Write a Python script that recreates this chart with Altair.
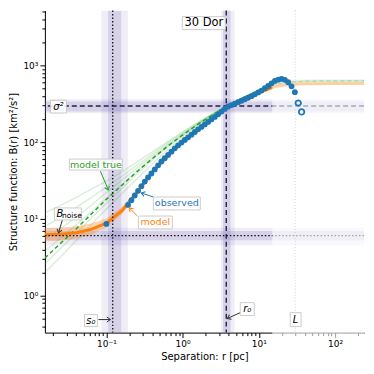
import altair as alt
import pandas as pd

# ---------------- data ----------------
obs_r = [0.1, 0.1925, 0.2129, 0.2355, 0.2604, 0.288, 0.3187, 0.3524, 0.3898, 0.4311,
         0.4769, 0.5273, 0.5833, 0.6452, 0.7136, 0.7893, 0.8731, 0.9656, 1.068, 1.181,
         1.306, 1.445, 1.598, 1.768, 1.955, 2.163, 2.392, 2.646, 2.927, 3.237,
         3.580, 3.959, 4.378, 4.844, 5.358, 5.926, 6.555, 7.251, 8.020, 8.867,
         9.808, 10.85, 12.00, 13.27, 14.68, 16.24, 17.96, 19.86, 21.97, 24.30,
         26.88, 29.73]
obs_B = [8.6, 15.2, 17.5, 20.2, 23.2, 26.7, 30.7, 34.7, 39.1, 44.2,
         49.9, 56.0, 61.8, 68.2, 75.2, 83.1, 91.1, 98.7, 106.9, 115.8,
         125.4, 135.8, 146.9, 158.3, 170.6, 183.9, 198.2, 213.6, 230.9, 250.8,
         272.4, 291.9, 304.7, 317.9, 331.8, 346.6, 362.5, 379.1, 398.1, 420.8,
         444.5, 470.5, 505.0, 540.0, 585.0, 628.6, 653.2, 666.5, 650.2, 603.5,
         534.6, 448.8]
hollow_r = [32.9, 36.4]
hollow_B = [324, 248]

curve_r = [0.0156, 0.025, 0.04, 0.063, 0.1, 0.16, 0.25, 0.4, 0.63, 1.0, 1.6,
           2.5, 4.0, 6.3, 10, 16, 25, 40, 63, 100, 160, 240]
true_B = [3.1, 4.8, 7.4, 11.5, 18, 27.5, 41, 61, 88, 124, 172,
          228, 300, 380, 470, 560, 605, 620, 625, 628, 630, 630]
model_B = [6.2, 6.3, 6.6, 7.3, 8.8, 12.8, 22, 40.5, 66.5, 101, 147,
           205, 295, 358, 440, 530, 568, 576, 578, 580, 580, 580]
model_lo = [5.1, 5.2, 5.5, 6.2, 7.7, 11.5, 20.5, 38.5, 63, 96, 140,
            196, 285, 345, 425, 515, 552, 560, 562, 563, 563, 563]
model_hi = [7.6, 7.7, 8.0, 8.7, 10.2, 14.3, 23.5, 42.5, 70, 105, 154,
            214, 305, 371, 455, 545, 585, 593, 595, 597, 597, 597]
ens_g1 = [2.0, 3.2, 5.2, 8.4, 13.5, 21.5, 33, 52, 79, 116, 165, 224, 298, 378, 468, 560, 600, 612, 615, 616, 616, 616]
ens_g2 = [5.5, 7.5, 10.5, 15, 22, 32, 46, 66, 93, 128, 176, 232, 303, 384, 476, 570, 620, 635, 640, 642, 642, 642]
ens_g3 = [8.0, 10.5, 14, 19, 26, 36, 50, 70, 97, 132, 179, 234, 304, 383, 474, 566, 612, 626, 630, 632, 632, 632]
ens_g4 = [3.8, 5.6, 8.3, 12.3, 18.5, 28, 42, 62, 89, 125, 173, 229, 301, 381, 471, 563, 608, 622, 626, 628, 628, 628]
ens_g5 = [12, 15, 19, 24.5, 31, 41, 55, 75, 101, 136, 182, 236, 305, 385, 477, 572, 625, 640, 646, 648, 648, 648]
ens_g6 = [2.6, 4.1, 6.5, 10.2, 16, 25, 38.5, 58.5, 86, 122, 170, 227, 300, 379, 469, 558, 603, 616, 620, 621, 621, 621]

sigma2 = 296
sigma2_inner = [252, 340]
sigma2_outer = [239, 363]
noise = 6.05
noise_inner = [5.28, 6.98]
noise_outer = [4.55, 7.7]
s0 = 0.121
s0_inner = [0.1052, 0.1565]
s0_outer = [0.0862, 0.191]
r0 = 3.74
r0_inner = [3.4, 4.26]
r0_outer = [3.2, 4.8]
L = 30.0
r_fade = 15.0

x_dom = [0.0156, 240]
y_dom = [0.33, 5200]
x_major = [0.1, 1, 10, 100]
x_minor = [0.02, 0.03, 0.04, 0.05, 0.06, 0.07, 0.08, 0.09,
           0.2, 0.3, 0.4, 0.5, 0.6, 0.7, 0.8, 0.9,
           2, 3, 4, 5, 6, 7, 8, 9, 20, 30, 40, 50, 60, 70, 80, 90, 200]
y_major = [1, 10, 100, 1000]
y_minor = [0.4, 0.5, 0.6, 0.7, 0.8, 0.9, 2, 3, 4, 5, 6, 7, 8, 9,
           20, 30, 40, 50, 60, 70, 80, 90, 200, 300, 400, 500, 600, 700, 800, 900,
           2000, 3000, 4000, 5000]

# annotation boxes: text, centre r, centre B, r_lo, r_hi, B_lo, B_hi
boxes = [
    ("30 Dor", 1.90, 3565, 0.99, 3.63, 2934, 4330),
    ("σ²", 0.0235, 291, 0.01845, 0.0299, 240, 351),
    ("model true", 0.0729, 51.0, 0.0327, 0.162, 43.3, 60.2),
    ("observed", 0.839, 15.9, 0.413, 1.706, 13.1, 19.3),
    ("model", 0.4387, 9.0, 0.2626, 0.733, 7.41, 10.9),
    ("Bnoise", 0.0313, 11.6, 0.0208, 0.047, 9.7, 13.9),
    ("s0", 0.0626, 0.4735, 0.0515, 0.0762, 0.396, 0.567),
    ("r0", 7.05, 0.668, 5.71, 8.71, 0.55, 0.811),
    ("L", 30.4, 0.488, 25.8, 35.9, 0.396, 0.601),
]
# arrows: start r, start B, end r, end B, head angle, colour
arrows = [
    (0.0834, 42.0, 0.1062, 23.8, 157, "#2ca02c"),
    (0.413, 19.3, 0.2875, 21.8, 288, "#1f77b4"),
    (0.2548, 10.94, 0.2001, 13.9, 315, "#ff7f0e"),
    (0.0265, 9.7, 0.0235, 6.58, 197, "#333333"),
    (0.0785, 0.488, 0.1128, 0.488, 90, "#333333"),
    (5.71, 0.601, 3.854, 0.503, 245, "#333333"),
]

# ---------------- build ----------------
W, H = 320, 323
FONT = "DejaVu Sans"
xs = alt.Scale(type="log", domain=x_dom, nice=False)
ys = alt.Scale(type="log", domain=y_dom, nice=False)
PURPLE = "#6a5aaa"


def X(f, axis=None):
    return alt.X(f, type="quantitative", scale=xs, axis=axis)


def Y(f, axis=None):
    return alt.Y(f, type="quantitative", scale=ys, axis=axis)


df_obs = pd.DataFrame({"r": obs_r, "B": obs_B})
df_hol = pd.DataFrame({"r": hollow_r, "B": hollow_B})
df_curve = pd.DataFrame({"r": curve_r, "true": true_B, "model": model_B,
                         "lo": model_lo, "hi": model_hi})
ens_rows = []
for name, vals in [("g1", ens_g1), ("g2", ens_g2), ("g3", ens_g3),
                   ("g4", ens_g4), ("g5", ens_g5), ("g6", ens_g6)]:
    for rr, bb in zip(curve_r, vals):
        ens_rows.append({"r": rr, "B": bb, "m": name})
df_ens = pd.DataFrame(ens_rows)

vb_outer = pd.DataFrame({"lo": [s0_outer[0], r0_outer[0]], "hi": [s0_outer[1], r0_outer[1]]})
vb_inner = pd.DataFrame({"lo": [s0_inner[0], r0_inner[0]], "hi": [s0_inner[1], r0_inner[1]]})
hb_outer = pd.DataFrame({"lo": [sigma2_outer[0], noise_outer[0]], "hi": [sigma2_outer[1], noise_outer[1]]})
hb_inner = pd.DataFrame({"lo": [sigma2_inner[0], noise_inner[0]], "hi": [sigma2_inner[1], noise_inner[1]]})

layers = []
layers.append(alt.Chart(vb_outer).mark_rect(color=PURPLE, opacity=0.11, clip=True).encode(x=X("lo"), x2="hi"))
layers.append(alt.Chart(hb_outer).mark_rect(color=PURPLE, opacity=0.11, clip=True).encode(y=Y("lo"), y2="hi"))
layers.append(alt.Chart(vb_inner).mark_rect(color=PURPLE, opacity=0.18, clip=True).encode(x=X("lo"), x2="hi"))
layers.append(alt.Chart(hb_inner).mark_rect(color=PURPLE, opacity=0.18, clip=True).encode(y=Y("lo"), y2="hi"))

layers.append(alt.Chart(df_ens).mark_line(color="#2ca02c", opacity=0.17, strokeWidth=1.5, clip=True)
              .encode(x=X("r"), y=Y("B"), detail="m:N"))
layers.append(alt.Chart(df_curve).mark_area(color="#ff7f0e", opacity=0.32, clip=True)
              .encode(x=X("r"), y=Y("lo"), y2="hi"))
layers.append(alt.Chart(df_curve).mark_line(color="#2ca02c", strokeWidth=1.5, strokeDash=[4, 3], clip=True)
              .encode(x=X("r"), y=Y("true")))
layers.append(alt.Chart(df_curve).mark_line(color="#ff7f0e", strokeWidth=3, clip=True)
              .encode(x=X("r"), y=Y("model")))

# reference lines
layers.append(alt.Chart(pd.DataFrame({"B": [sigma2]})).mark_rule(color="#222244", strokeWidth=1.4, strokeDash=[5, 3])
              .encode(y=Y("B")))
layers.append(alt.Chart(pd.DataFrame({"r": [r0]})).mark_rule(color="#222244", strokeWidth=1.4, strokeDash=[5, 3])
              .encode(x=X("r")))
layers.append(alt.Chart(pd.DataFrame({"B": [noise]})).mark_rule(color="#111111", strokeWidth=1.3, strokeDash=[1.5, 2])
              .encode(y=Y("B")))
layers.append(alt.Chart(pd.DataFrame({"r": [s0]})).mark_rule(color="#111111", strokeWidth=1.3, strokeDash=[1.5, 2])
              .encode(x=X("r")))
layers.append(alt.Chart(pd.DataFrame({"r": [L]})).mark_rule(color="#888888", strokeWidth=1, strokeDash=[1, 2])
              .encode(x=X("r")))

# white veil over the large-separation region
layers.append(alt.Chart(pd.DataFrame({"lo": [r_fade], "hi": [x_dom[1]]})).mark_rect(color="white", opacity=0.62, clip=False)
              .encode(x=X("lo"), x2="hi", y=alt.value(0), y2=alt.value(H + 7)))

# observed points (carry the main axes)
x_axis = alt.Axis(values=x_major, orient="bottom", zindex=0, grid=False,
                  labelExpr="datum.value < 0.5 ? '10⁻¹' : datum.value < 5 ? '10⁰' : datum.value < 50 ? '10¹' : '10²'",
                  tickSize=5, tickColor="black", domainColor="black", labelColor="black",
                  labelFontSize=9, labelPadding=2, labelFont=FONT,
                  title="Separation: r [pc]", titleFont=FONT, titleFontSize=10,
                  titleFontWeight="normal", titleColor="black", titlePadding=3)
y_axis = alt.Axis(values=y_major, orient="left", zindex=0, grid=False,
                  labelExpr="datum.value < 5 ? '10⁰' : datum.value < 50 ? '10¹' : datum.value < 500 ? '10²' : '10³'",
                  tickSize=5, tickColor="black", domainColor="black", labelColor="black",
                  labelFontSize=9, labelPadding=2, labelFont=FONT,
                  title="Structure function: B(r) [km²/s²]", titleFont=FONT, titleFontSize=10,
                  titleFontWeight="normal", titleColor="black", titlePadding=4)
layers.append(alt.Chart(df_obs).mark_circle(color="#1f77b4", size=34, opacity=1)
              .encode(x=X("r", x_axis), y=Y("B", y_axis)))
x_axis_minor = alt.Axis(values=x_minor, orient="bottom", zindex=0, grid=False, labels=False,
                        domain=False, tickSize=3, tickColor="black", title=None)
y_axis_minor = alt.Axis(values=y_minor, orient="left", zindex=0, grid=False, labels=False,
                        domain=False, tickSize=3, tickColor="black", title=None)
layers.append(alt.Chart(df_hol).mark_point(shape="circle", filled=False, color="#1f77b4", size=30, strokeWidth=1.8, opacity=1)
              .encode(x=X("r", x_axis_minor), y=Y("B", y_axis_minor)))

# arrows
df_arr = pd.DataFrame(arrows, columns=["r1", "B1", "r2", "B2", "ang", "col"])
layers.append(alt.Chart(df_arr).mark_rule(strokeWidth=1)
              .encode(x=X("r1"), y=Y("B1"), x2="r2", y2="B2", color=alt.Color("col:N", scale=None)))
layers.append(alt.Chart(df_arr).mark_point(shape="M-0.7,1L0,0L0.7,1", filled=False, size=50, strokeWidth=1, opacity=1)
              .encode(x=X("r2"), y=Y("B2"), angle=alt.Angle("ang:Q", scale=None),
                      color=alt.Color("col:N", scale=None)))

# annotation boxes
df_box = pd.DataFrame(boxes, columns=["t", "rc", "Bc", "r1", "r2", "B1", "B2"])
layers.append(alt.Chart(df_box).mark_rect(fill="white", stroke="#c8c8c8", strokeWidth=1, opacity=0.9)
              .encode(x=X("r1"), x2="r2", y=Y("B1"), y2="B2"))


def label(text, rc, Bc, color="black", size=9.5, style="normal", dx=0, dy=0):
    d = pd.DataFrame({"t": [text], "rc": [rc], "Bc": [Bc]})
    return alt.Chart(d).mark_text(font=FONT, fontSize=size, color=color, fontStyle=style,
                                  align="center", baseline="middle", dx=dx, dy=dy).encode(
        x=X("rc"), y=Y("Bc"), text="t:N")


bx = {b[0]: b for b in boxes}
layers.append(label("30 Dor", bx["30 Dor"][1], bx["30 Dor"][2], size=11.5))
layers.append(label("σ²", bx["σ²"][1], bx["σ²"][2], size=10, style="italic"))
layers.append(label("model true", bx["model true"][1], bx["model true"][2], color="#2ca02c"))
layers.append(label("observed", bx["observed"][1], bx["observed"][2], color="#1f77b4"))
layers.append(label("model", bx["model"][1], bx["model"][2], color="#ff7f0e"))
layers.append(label("B", bx["Bnoise"][1], bx["Bnoise"][2], size=10, style="italic", dx=-8))
layers.append(label("noise", bx["Bnoise"][1], bx["Bnoise"][2], size=7.5, dx=4, dy=2))
layers.append(label("s₀", bx["s0"][1], bx["s0"][2], size=10, style="italic"))
layers.append(label("r₀", bx["r0"][1], bx["r0"][2], size=10, style="italic"))
layers.append(label("L", bx["L"][1], bx["L"][2], size=10, style="italic"))

chart = (alt.layer(*layers)
         .resolve_axis(x="independent", y="independent")
         .properties(width=W, height=H, autosize=alt.AutoSizeParams(type="none"),
                     padding={"left": 37, "top": 2, "right": 2, "bottom": 40},
                     background="white")
         .configure_view(stroke=None))

chart.save("out.html", embed_options={"renderer": "svg", "actions": False})
